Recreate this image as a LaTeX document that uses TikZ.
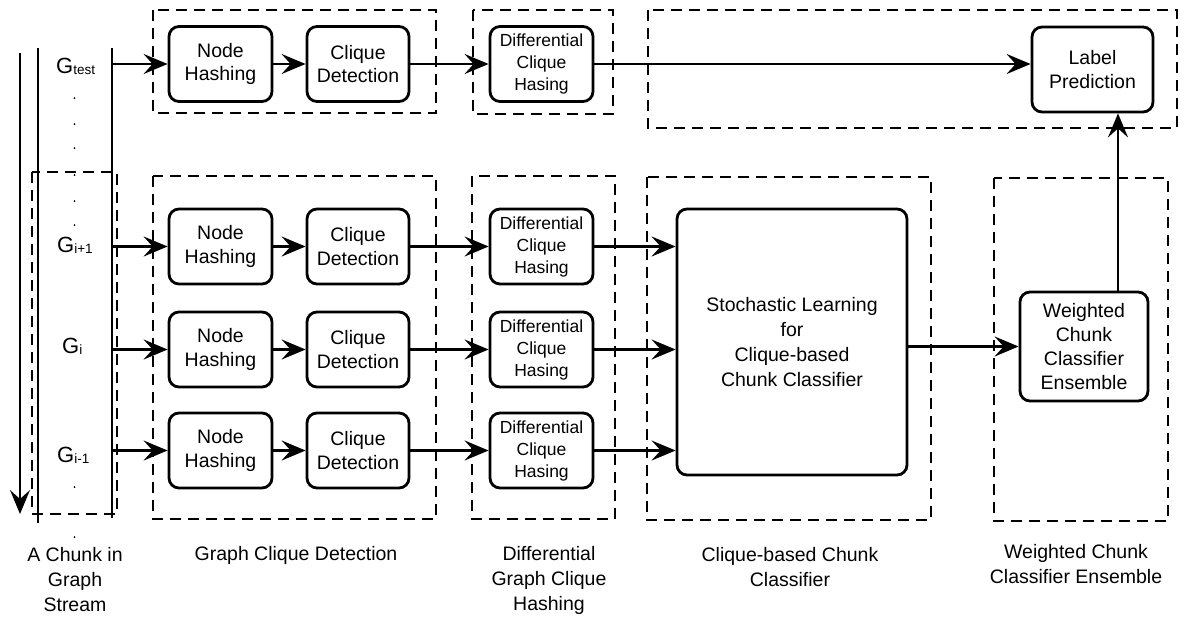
\documentclass[tikz,border=0pt]{standalone}
\usepackage{fontspec}
\setmainfont{Liberation Sans}
\usetikzlibrary{arrows.meta,calc}
\newcommand{\gl}[1]{{\fontsize{22}{22}\selectfont G}{\fontsize{13.5}{13.5}\selectfont\raisebox{-1.5pt}{#1}}}
\begin{document}
\begin{tikzpicture}[x=1pt,y=-1pt,
  box/.style={draw, line width=2.8pt, rounded corners=10pt, align=center, inner sep=0pt,
    font=\fontsize{19.5}{23.5}\selectfont},
  nbox/.style={box, minimum width=103pt, minimum height=75pt},
  dbox/.style={nbox, font=\fontsize{17.5}{22}\selectfont},
  grp/.style={draw, line width=2.6pt, dash pattern=on 11pt off 7pt},
  solid line/.style={line width=2.4pt},
  arr/.style={line width=2.4pt, -{Stealth[length=24pt,width=20pt,inset=9pt]}},
  lbl/.style={align=center, inner sep=0pt, font=\fontsize{19.5}{25}\selectfont},
  glab/.style={anchor=base west, inner sep=0pt},
  ]
\useasboundingbox (0,0) rectangle (1181,616);

% dashed groups
\draw[grp] (153,10) rectangle (436,113);
\draw[grp] (473,10) rectangle (613,114);
\draw[grp] (648,10) rectangle (1177,128);
\draw[grp] (153,176) rectangle (436,519);
\draw[grp] (472,176) rectangle (615,519);
\draw[grp] (647,177) rectangle (931,520);
\draw[grp] (994,178) rectangle (1168,521);
\draw[grp] (32,172) rectangle (117,514);

% graph stream column
\coordinate (la) at (38,48);  \coordinate (lb) at (38,523);
\coordinate (ra) at (112,48); \coordinate (rb) at (112,518);
\coordinate (sa) at (20,53);  \coordinate (sb) at (20,514);
\draw[solid line] (la) -- (lb);
\draw[solid line] (ra) -- (rb);
\draw[arr] (sa) -- (sb);

\node[glab] (gt) at (56,73) {\gl{test}};
\node[glab] (gp) at (57,252) {\gl{i+1}};
\node[glab] (gi) at (62,353) {\gl{i}};
\node[glab] (gm) at (57,462) {\gl{i-1}};
\foreach \y in {98,124,148,175,201,225,487,537} \fill (74.5,\y) circle (1pt);

% rows
\foreach \r/\y in {0/64,1/246.5,2/349.5,3/450.5}{
  \node[nbox] (nh\r) at (220.5,\y) {Node\\Hashing};
  \node[nbox, minimum width=102pt] (cd\r) at (358,\y) {Clique\\Detection};
  \node[dbox] (dch\r) at (541.5,\y) {Differential\\Clique\\Hasing};
  \coordinate (s\r) at (112,\y);
  \draw[arr] (s\r) -- (nh\r.west);
  \draw[arr] (nh\r.east) -- (cd\r.west);
  \draw[arr] (cd\r.east) -- (dch\r.west);
}

\node[box, minimum width=121pt, minimum height=85pt] (lp) at (1092.5,69.5) {Label\\Prediction};
\node[box, minimum width=230pt, minimum height=266pt, font=\fontsize{19.5}{25}\selectfont] (st) at (792,342)
  {Stochastic Learning\\for\\Clique-based\\Chunk Classifier};
\node[box, minimum width=128pt, minimum height=109pt, font=\fontsize{19.5}{24}\selectfont] (we) at (1084,346.5)
  {Weighted\\Chunk\\Classifier\\Ensemble};

\draw[arr] (dch0.east) -- (dch0.east -| lp.west);
\foreach \r in {1,2,3} \draw[arr] (dch\r.east) -- (dch\r.east -| st.west);
\draw[arr] (st.east |- we.west) -- (we.west);
\draw[arr] ([xshift=34pt]we.north) -- ([xshift=34pt]we.north |- lp.south);

% bottom labels
\node[lbl] (l1) at (75,580) {A Chunk in\\Graph\\Stream};
\node[lbl] (l2) at (296,555) {Graph Clique Detection};
\node[lbl] (l3) at (549,580) {Differential\\Graph Clique\\Hashing};
\node[lbl] (l4) at (790,567.5) {Clique-based Chunk\\Classifier};
\node[lbl] (l5) at (1076,564.5) {Weighted Chunk\\Classifier Ensemble};
\end{tikzpicture}
\end{document}
